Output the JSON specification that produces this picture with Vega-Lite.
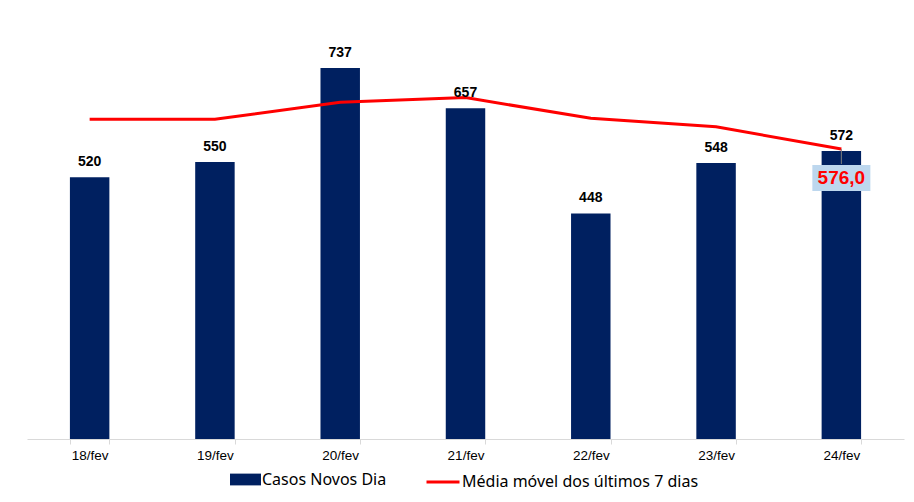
{
  "$schema": "https://vega.github.io/schema/vega-lite/v6.json",
  "width": 877,
  "height": 428,
  "autosize": {"type": "none"},
  "padding": {"left": 27, "top": 11, "right": 10, "bottom": 63},
  "background": "white",
  "config": {
    "view": {"stroke": null},
    "locale": {"number": {"decimal": ",", "thousands": ".", "grouping": [3], "currency": ["R$", ""]}},
    "font": "Liberation Sans"
  },
  "data": {
    "values": [
      {"dia": "18/fev", "casos": 520, "media": 635},
      {"dia": "19/fev", "casos": 550, "media": 635},
      {"dia": "20/fev", "casos": 737, "media": 669},
      {"dia": "21/fev", "casos": 657, "media": 678},
      {"dia": "22/fev", "casos": 448, "media": 637},
      {"dia": "23/fev", "casos": 548, "media": 620},
      {"dia": "24/fev", "casos": 572, "media": 576}
    ]
  },
  "encoding": {
    "x": {
      "field": "dia",
      "type": "nominal",
      "sort": null,
      "scale": {"paddingInner": 0.685, "paddingOuter": 0.3425},
      "axis": {
        "title": null,
        "labelAngle": 0,
        "labelFont": "Liberation Sans",
        "labelFontSize": 13.5,
        "labelColor": "#000000",
        "domainColor": "#d9d9d9",
        "tickColor": "#d9d9d9",
        "tickSize": 5,
        "tickBand": "extent",
        "labelPadding": 4,
        "grid": false
      }
    }
  },
  "layer": [
    {
      "mark": {"type": "bar"},
      "encoding": {
        "y": {"field": "casos", "type": "quantitative", "scale": {"domain": [0, 850], "nice": false}, "axis": null},
        "fill": {
          "datum": "Casos Novos Dia",
          "type": "nominal",
          "scale": {"domain": ["Casos Novos Dia"], "range": ["#002060"]},
          "legend": {
            "title": null,
            "orient": "none",
            "legendX": 203,
            "legendY": 453,
            "padding": 0,
            "symbolType": "M-1,-0.38H1V0.38H-1Z",
            "symbolSize": 961,
            "symbolStrokeWidth": 0,
            "labelFont": "Noto Sans",
            "labelFontSize": 16,
            "labelColor": "#000000",
            "labelOffset": 1,
            "labelLimit": 400
          }
        }
      }
    },
    {
      "mark": {"type": "line", "strokeWidth": 3},
      "encoding": {
        "y": {"field": "media", "type": "quantitative"},
        "stroke": {
          "datum": "Média móvel dos últimos 7 dias",
          "type": "nominal",
          "scale": {"domain": ["Média móvel dos últimos 7 dias"], "range": ["#ff0000"]},
          "legend": {
            "title": null,
            "orient": "none",
            "legendX": 398,
            "legendY": 453,
            "padding": 0,
            "symbolType": "stroke",
            "symbolSize": 1089,
            "symbolStrokeWidth": 3,
            "labelFont": "Noto Sans",
            "labelFontSize": 16,
            "labelColor": "#000000",
            "labelOffset": 1,
            "labelLimit": 400
          }
        }
      }
    },
    {
      "mark": {"type": "text", "font": "Liberation Sans", "fontWeight": "bold", "fontSize": 14, "color": "#000000", "baseline": "middle", "dy": -15},
      "encoding": {
        "y": {"field": "casos", "type": "quantitative"},
        "text": {"field": "casos", "type": "quantitative"}
      }
    },
    {
      "transform": [{"filter": "datum.dia === '24/fev'"}],
      "mark": {"type": "point", "shape": "M0,-1V1", "size": 225, "stroke": "#7f7f7f", "strokeWidth": 1, "filled": false, "opacity": 1, "yOffset": 7.5},
      "encoding": {
        "y": {"field": "media", "type": "quantitative"}
      }
    },
    {
      "transform": [{"filter": "datum.dia === '24/fev'"}],
      "mark": {"type": "point", "shape": "M-1,-0.45H1V0.45H-1Z", "size": 3364, "fill": "#bdd7ee", "filled": true, "strokeWidth": 0, "opacity": 1, "yOffset": 29},
      "encoding": {
        "y": {"field": "media", "type": "quantitative"}
      }
    },
    {
      "transform": [{"filter": "datum.dia === '24/fev'"}],
      "mark": {"type": "text", "font": "Liberation Sans", "fontWeight": "bold", "fontSize": 19, "color": "#ff0000", "baseline": "middle", "yOffset": 29},
      "encoding": {
        "y": {"field": "media", "type": "quantitative"},
        "text": {"field": "media", "type": "quantitative", "format": ".1f"}
      }
    }
  ]
}
